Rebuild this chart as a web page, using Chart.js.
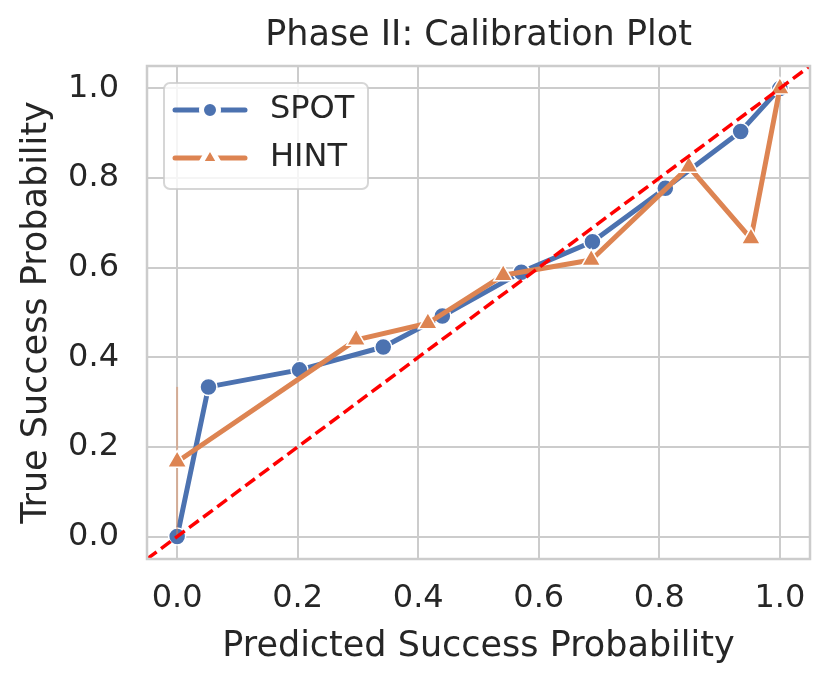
<!DOCTYPE html>
<html>
<head>
<meta charset="utf-8">
<script src="https://cdn.jsdelivr.net/npm/chart.js@4.4.0/dist/chart.umd.min.js"></script>
<style>
  html, body { margin: 0; padding: 0; background: #fff; }
  #wrap { width: 831px; height: 687px; }
</style>
</head>
<body>
<div id="wrap"><canvas id="calib" width="831" height="687"></canvas></div>
<script>
// === Data ===
const spotX = [0.0, 0.052, 0.203, 0.342, 0.440, 0.571, 0.689, 0.810, 0.935, 1.0];
const spotY = [0.0, 0.334, 0.372, 0.423, 0.492, 0.590, 0.658, 0.777, 0.904, 1.0];
const hintX = [0.0, 0.297, 0.416, 0.541, 0.687, 0.849, 0.952, 1.0];
const hintY = [0.167, 0.439, 0.476, 0.583, 0.617, 0.825, 0.665, 1.0];
// HINT confidence band at x = 0 (collapsed to a vertical line)
const hintBandX = [0.0, 0.0];
const hintBandY = [0.0, 0.334];
// perfect calibration reference
const diagX = [-0.05, 1.05];
const diagY = [-0.05, 1.05];
const tickValues = [0.0, 0.2, 0.4, 0.6, 0.8, 1.0];

const FONT = "'DejaVu Sans', sans-serif";
const TEXT = "#262626";
const GRID = "#cccccc";

function toPoints(xs, ys) {
  return xs.map((x, i) => ({ x: x, y: ys[i] }));
}

function fixedTicks(axis) {
  axis.ticks = tickValues.map((v) => ({ value: v }));
}

// === Frame round the plot area ===
const framePlugin = {
  id: "frame",
  afterDatasetsDraw(chart) {
    const { ctx, chartArea } = chart;
    ctx.save();
    ctx.strokeStyle = GRID;
    ctx.lineWidth = 2.5;
    ctx.strokeRect(chartArea.left, chartArea.top,
      chartArea.right - chartArea.left, chartArea.bottom - chartArea.top);
    ctx.restore();
  },
};

// === Legend drawn inside the axes (upper left) ===
const insideLegend = {
  id: "insideLegend",
  afterDraw(chart) {
    const ctx = chart.ctx;
    const left = chart.chartArea.left + 17;
    const top = chart.chartArea.top + 17;
    const w = 204, h = 106;
    ctx.save();
    ctx.beginPath();
    ctx.roundRect(left, top, w, h, 6);
    ctx.fillStyle = "rgba(255,255,255,0.8)";
    ctx.fill();
    ctx.strokeStyle = "rgba(204,204,204,0.8)";
    ctx.lineWidth = 2;
    ctx.stroke();

    const items = chart.data.datasets.filter((d) => d.inLegend);
    items.forEach((ds, i) => {
      const y = top + 27 + i * 48;
      ctx.beginPath();
      ctx.moveTo(left + 11, y);
      ctx.lineTo(left + 81, y);
      ctx.strokeStyle = ds.borderColor;
      ctx.lineWidth = ds.borderWidth;
      ctx.lineCap = "round";
      ctx.stroke();
      ctx.fillStyle = ds.pointBackgroundColor;
      ctx.strokeStyle = ds.pointBorderColor;
      Chart.helpers.drawPoint(ctx, {
        pointStyle: ds.pointStyle,
        radius: ds.pointRadius,
        borderWidth: ds.pointBorderWidth,
        rotation: 0,
      }, left + 46, y);
      ctx.fillStyle = TEXT;
      ctx.font = "32px " + FONT;
      ctx.textBaseline = "middle";
      ctx.textAlign = "left";
      ctx.fillText(ds.label, left + 106, y);
    });
    ctx.restore();
  },
};

new Chart(document.getElementById("calib"), {
  type: "scatter",
  data: {
    datasets: [
      {
        label: "SPOT",
        inLegend: true,
        data: toPoints(spotX, spotY),
        showLine: true,
        borderColor: "#4c72b0",
        borderWidth: 5,
        borderJoinStyle: "round",
        pointStyle: "circle",
        pointRadius: 8.5,
        pointHoverRadius: 8.5,
        pointBackgroundColor: "#4c72b0",
        pointBorderColor: "#ffffff",
        pointBorderWidth: 1.5,
        order: 3,
      },
      {
        label: "HINT band",
        data: toPoints(hintBandX, hintBandY),
        showLine: true,
        borderColor: "rgba(221,132,82,0.45)",
        borderWidth: 2,
        pointRadius: 0,
        order: 2,
      },
      {
        label: "HINT",
        inLegend: true,
        data: toPoints(hintX, hintY),
        showLine: true,
        borderColor: "#dd8452",
        borderWidth: 5,
        borderJoinStyle: "round",
        pointStyle: "triangle",
        pointRadius: 11,
        pointHoverRadius: 11,
        pointBackgroundColor: "#dd8452",
        pointBorderColor: "#ffffff",
        pointBorderWidth: 1.5,
        order: 1,
      },
      {
        label: "Perfect",
        data: toPoints(diagX, diagY),
        showLine: true,
        borderColor: "#ff0000",
        borderWidth: 3.5,
        borderDash: [12, 5.5],
        pointRadius: 0,
        order: 0,
      },
    ],
  },
  options: {
    responsive: false,
    animation: false,
    layout: { padding: { left: 0, right: 21, top: 0, bottom: 0 } },
    plugins: {
      legend: { display: false },
      tooltip: { enabled: false },
      title: {
        display: true,
        fullSize: false,
        text: "Phase II: Calibration Plot",
        color: TEXT,
        font: { family: FONT, size: 35, weight: "normal", lineHeight: 1.2 },
        padding: { top: 15, bottom: 9 },
      },
    },
    scales: {
      x: {
        type: "linear",
        min: -0.05,
        max: 1.05,
        afterBuildTicks: fixedTicks,
        afterFit: (s) => { s.height = 128; },
        ticks: {
          callback: (v) => v.toFixed(1),
          color: TEXT,
          font: { family: FONT, size: 32 },
          padding: 20,
          maxRotation: 0,
          autoSkip: false,
        },
        grid: { color: GRID, lineWidth: 2, drawTicks: false },
        border: { display: false },
        title: {
          display: true,
          text: "Predicted Success Probability",
          color: TEXT,
          font: { family: FONT, size: 35, lineHeight: 1.2 },
          padding: { top: 0, bottom: 19 },
        },
      },
      y: {
        type: "linear",
        min: -0.05,
        max: 1.05,
        afterBuildTicks: fixedTicks,
        afterFit: (s) => { s.width = 147; },
        ticks: {
          callback: (v) => v.toFixed(1),
          color: TEXT,
          font: { family: FONT, size: 32 },
          padding: 28,
          autoSkip: false,
        },
        grid: { color: GRID, lineWidth: 2, drawTicks: false },
        border: { display: false },
        title: {
          display: true,
          text: "True Success Probability",
          color: TEXT,
          font: { family: FONT, size: 35, lineHeight: 1.2 },
          padding: { top: 16, bottom: 0 },
        },
      },
    },
  },
  plugins: [framePlugin, insideLegend],
});
</script>
</body>
</html>
